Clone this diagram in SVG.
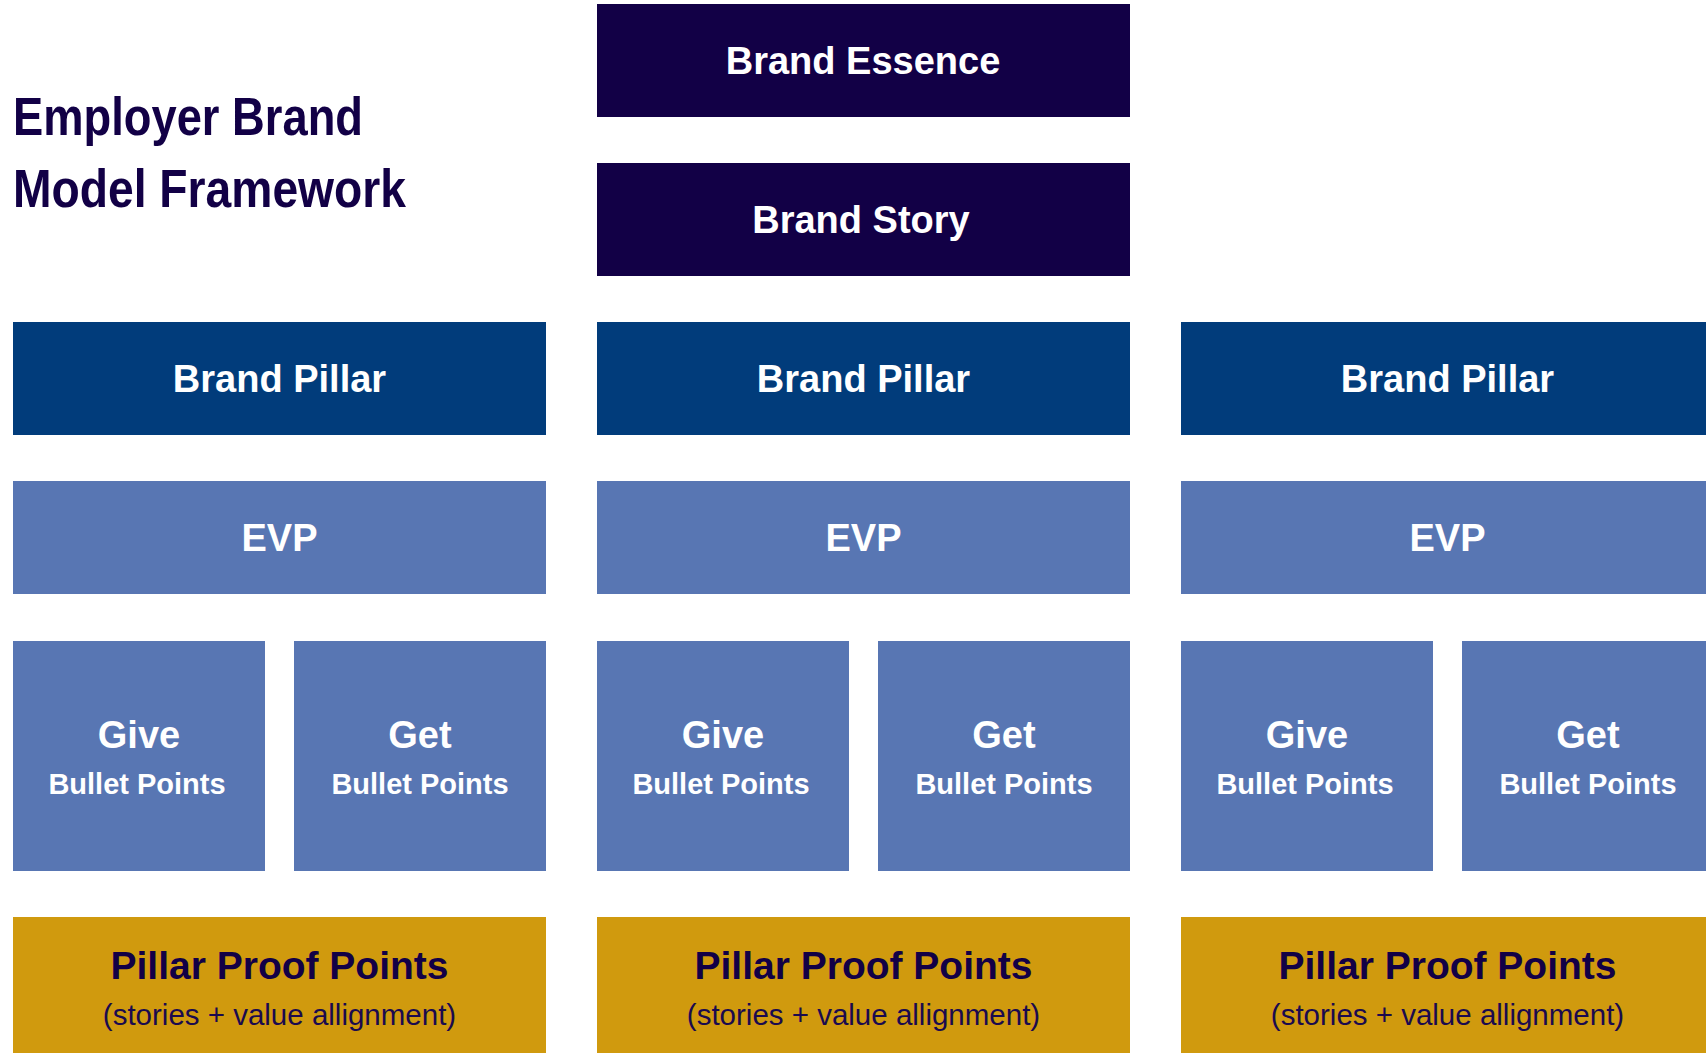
<svg xmlns="http://www.w3.org/2000/svg" width="1706" height="1053" viewBox="0 0 1706 1053">
<style>
.bg{fill:#ffffff}
.essence{fill:#120046}
.pillar{fill:#013c7b}
.evp{fill:#5876b3}
.proof{fill:#d09a0e}
.t{font-family:"Liberation Sans",Arial,sans-serif;font-weight:bold;text-anchor:middle}
.w{fill:#ffffff}
.h{font-size:38px}
.sub{font-size:29px}
.pp{fill:#120046;font-size:39px}
.ps{font-family:"Liberation Sans",Arial,sans-serif;font-weight:normal;text-anchor:middle;fill:#1a0a4e;font-size:29.5px}
.title{font-family:"Liberation Sans",Arial,sans-serif;font-weight:bold;font-size:54px;fill:#120046}
</style>
<rect class="bg" x="0" y="0" width="1706" height="1053"/>
<g id="title">
<text class="title" x="13" y="135" textLength="350" lengthAdjust="spacingAndGlyphs">Employer Brand</text>
<text class="title" x="13" y="207" textLength="393" lengthAdjust="spacingAndGlyphs">Model Framework</text>
</g>
<g id="connectors"></g>
<g id="brand-essence"><rect class="essence" x="597" y="4" width="533" height="113"/><text class="t w h" x="863" y="74">Brand Essence</text></g>
<g id="brand-story"><rect class="essence" x="597" y="163" width="533" height="113"/><text class="t w h" x="861" y="233">Brand Story</text></g>

<g id="pillar-1"><rect class="pillar" x="13" y="322" width="533" height="113"/><text class="t w h" x="279.5" y="392">Brand Pillar</text></g>
<g id="pillar-2"><rect class="pillar" x="597" y="322" width="533" height="113"/><text class="t w h" x="863.5" y="392">Brand Pillar</text></g>
<g id="pillar-3"><rect class="pillar" x="1181" y="322" width="533" height="113"/><text class="t w h" x="1447.5" y="392">Brand Pillar</text></g>

<g id="evp-1"><rect class="evp" x="13" y="481" width="533" height="113"/><text class="t w h" x="279.5" y="551">EVP</text></g>
<g id="evp-2"><rect class="evp" x="597" y="481" width="533" height="113"/><text class="t w h" x="863.5" y="551">EVP</text></g>
<g id="evp-3"><rect class="evp" x="1181" y="481" width="533" height="113"/><text class="t w h" x="1447.5" y="551">EVP</text></g>

<g id="give-1"><rect class="evp" x="13" y="641" width="252" height="230"/><text class="t w h" x="139" y="748">Give</text><text class="t w sub" x="137" y="794">Bullet Points</text></g>
<g id="get-1"><rect class="evp" x="294" y="641" width="252" height="230"/><text class="t w h" x="420" y="748">Get</text><text class="t w sub" x="420" y="794">Bullet Points</text></g>
<g id="give-2"><rect class="evp" x="597" y="641" width="252" height="230"/><text class="t w h" x="723" y="748">Give</text><text class="t w sub" x="721" y="794">Bullet Points</text></g>
<g id="get-2"><rect class="evp" x="878" y="641" width="252" height="230"/><text class="t w h" x="1004" y="748">Get</text><text class="t w sub" x="1004" y="794">Bullet Points</text></g>
<g id="give-3"><rect class="evp" x="1181" y="641" width="252" height="230"/><text class="t w h" x="1307" y="748">Give</text><text class="t w sub" x="1305" y="794">Bullet Points</text></g>
<g id="get-3"><rect class="evp" x="1462" y="641" width="252" height="230"/><text class="t w h" x="1588" y="748">Get</text><text class="t w sub" x="1588" y="794">Bullet Points</text></g>

<g id="proof-1"><rect class="proof" x="13" y="917" width="533" height="150"/><text class="t pp" x="279.5" y="979">Pillar Proof Points</text><text class="ps" x="279.5" y="1025">(stories + value allignment)</text></g>
<g id="proof-2"><rect class="proof" x="597" y="917" width="533" height="150"/><text class="t pp" x="863.5" y="979">Pillar Proof Points</text><text class="ps" x="863.5" y="1025">(stories + value allignment)</text></g>
<g id="proof-3"><rect class="proof" x="1181" y="917" width="533" height="150"/><text class="t pp" x="1447.5" y="979">Pillar Proof Points</text><text class="ps" x="1447.5" y="1025">(stories + value allignment)</text></g>
</svg>
